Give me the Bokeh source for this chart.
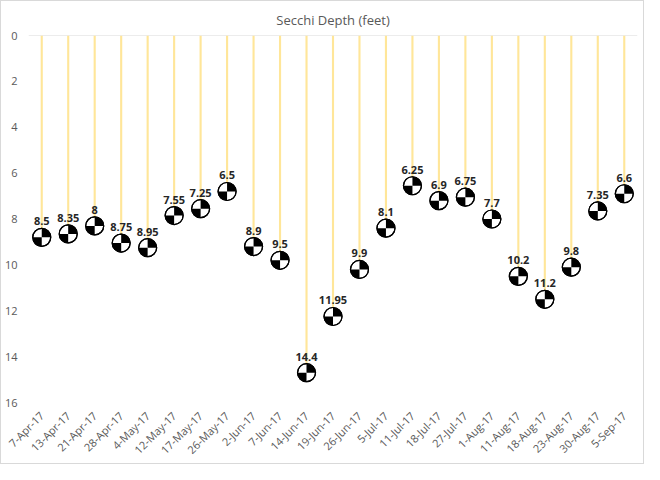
from bokeh.plotting import figure
from bokeh.models import Range1d, ColumnDataSource
from bokeh.embed import file_html
from bokeh.resources import INLINE
from bokeh.core.properties import value
import math

dates = ["7-Apr-17","13-Apr-17","21-Apr-17","28-Apr-17","4-May-17","12-May-17","17-May-17","26-May-17",
         "2-Jun-17","7-Jun-17","14-Jun-17","19-Jun-17","26-Jun-17","5-Jul-17","11-Jul-17","18-Jul-17",
         "27-Jul-17","1-Aug-17","11-Aug-17","18-Aug-17","23-Aug-17","30-Aug-17","5-Sep-17"]
depth = [8.5,8.35,8,8.75,8.95,7.55,7.25,6.5,8.9,9.5,14.4,11.95,9.9,8.1,6.25,6.9,6.75,7.7,10.2,11.2,9.8,7.35,6.6]
labels = ["8.5","8.35","8","8.75","8.95","7.55","7.25","6.5","8.9","9.5","14.4","11.95","9.9","8.1","6.25",
          "6.9","6.75","7.7","10.2","11.2","9.8","7.35","6.6"]

disk = [d + 0.3 for d in depth]
src = ColumnDataSource(dict(x=dates, d=depth, disk=disk, lab=labels, zero=[0]*len(dates)))

p = figure(width=644, height=464, x_range=dates, y_range=Range1d(16, 0),
           output_backend="svg", toolbar_location=None,
           title="Secchi Depth (feet)", min_border_left=10, min_border_right=8,
           min_border_top=12, min_border_bottom=6,
           styles={"border": "1px solid #d9d9d9"})
p.title.align = "center"
p.title.text_font = "Open Sans"
p.title.text_font_style = "normal"
p.title.text_font_size = "13px"
p.title.text_color = "#595959"
p.title.standoff = 14
p.outline_line_color = None
p.border_fill_color = "white"
p.xgrid.grid_line_color = None
p.ygrid.grid_line_color = None
p.yaxis.ticker = [0, 2, 4, 6, 8, 10, 12, 14, 16]
p.yaxis.axis_line_color = None
p.yaxis.major_tick_line_color = None
p.yaxis.minor_tick_line_color = None
p.xaxis.axis_line_color = None
p.xaxis.major_tick_line_color = None
p.xaxis.major_label_orientation = math.pi / 4
for ax in (p.xaxis, p.yaxis):
    ax.major_label_text_font = "Open Sans"
    ax.major_label_text_font_size = "11px"
    ax.major_label_text_color = "#595959"

p.hspan(y=[0], line_color="#d9d9d9", line_width=1)
p.vbar(x="x", top="zero", bottom="d", width=0.08, source=src, fill_color="#FFE699", line_color=None)

p.circle(x="x", y="disk", radius=9, radius_units="screen", source=src,
         fill_color="white", line_color="black", line_width=1.2)
for a in (0, math.pi):
    p.wedge(x="x", y="disk", radius=9, radius_units="screen", start_angle=a, end_angle=a + math.pi / 2,
            source=src, fill_color="black", line_color=None)
p.circle(x="x", y="disk", radius=9, radius_units="screen", source=src,
         fill_color=None, line_color="black", line_width=1.2)

p.text(x="x", y="disk", text="lab", source=src, y_offset=-12, text_align="center", text_baseline="bottom",
       text_font=value("Open Sans"), text_font_size="11px", text_font_style="bold", text_color="#262626")

open("out.html", "w").write(file_html(p, INLINE))
